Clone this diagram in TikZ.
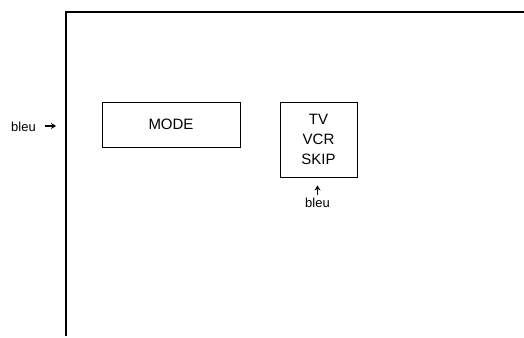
\documentclass[tikz,border=0pt]{standalone}
\usepackage{fontspec}
\setmainfont{Liberation Sans}
\usetikzlibrary{arrows.meta}
\tikzset{
  touche/.style={draw,line width=0.9pt,inner sep=0pt,align=center,font=\fontsize{15}{20}\selectfont},
  etiq/.style={inner sep=0pt,font=\fontsize{13}{15}\selectfont},
  fleche/.style={line width=1.8pt,-{Stealth[length=5pt,width=6pt]}}
}
\begin{document}
\begin{tikzpicture}[x=1pt,y=-1pt]
  \useasboundingbox (0,0) rectangle (524,337);
  % cadre
  \draw[line width=2pt] (66,336) -- (66,12) -- (524,12);
  \node[touche,minimum width=138pt,minimum height=45pt] (mode) at (171,124.5) {MODE};
  \node[touche,minimum width=77pt,minimum height=75pt] (tvvcr) at (318.5,139.5) {TV\\VCR\\SKIP};
  \node[etiq] (bleuG) at (23.5,127) {bleu};
  \coordinate (departG) at (45,126);
  \coordinate (pointeG) at (56,126);
  \draw[fleche] (departG) -- (pointeG);
  \node[etiq] (bleuB) at (317.5,203) {bleu};
  \draw[fleche,shorten <=3pt,shorten >=8pt] (bleuB.north) -- (tvvcr.south -| bleuB.north);
\end{tikzpicture}
\end{document}
